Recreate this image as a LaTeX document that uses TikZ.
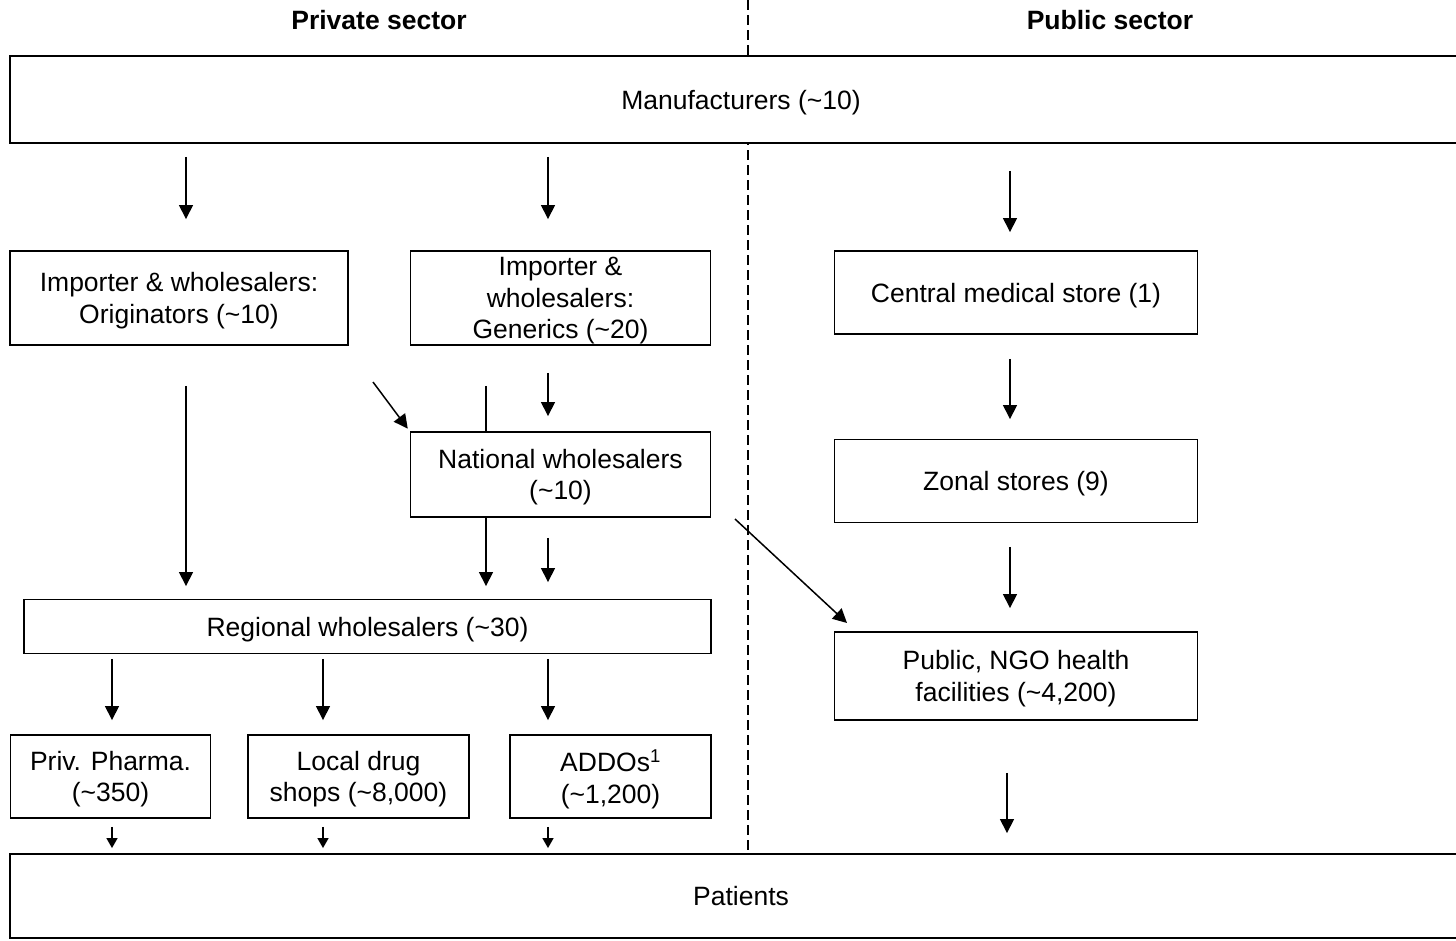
\documentclass[tikz,border=0pt]{standalone}
\usepackage{fontspec}
\setmainfont{Liberation Sans}
\usetikzlibrary{arrows.meta}
\newcommand{\tl}{\textasciitilde}
\begin{document}
\begin{tikzpicture}[x=1pt,y=-1pt,
  box/.style={draw, line width=1.9pt, fill=white, align=center, inner sep=0pt,
    text depth=-7pt, font=\fontsize{26.5}{31.5}\selectfont},
  flow/.style={line width=1.5pt, -{Triangle[length=14pt,width=14pt]}},
  shortflow/.style={line width=1.5pt, -{Triangle[length=10pt,width=11pt]}},
  plain/.style={line width=1.5pt},
  divider/.style={line width=1.5pt, dash pattern=on 10pt off 5pt},
  heading/.style={font=\fontsize{26.5}{31.5}\selectfont\bfseries}]
\useasboundingbox (0,0) rectangle (1456,940);

% sector divider, hidden behind the two wide boxes
\coordinate (divtop) at (748,0);
\coordinate (divbot) at (748,854);
\draw[divider] (divtop) -- (divbot);

% headings
\node[heading] (privhead) at (379,20) {Private sector};
\node[heading] (pubhead) at (1110,20) {Public sector};

% boxes
\node[box, minimum width=1462pt, minimum height=87pt] (manu) at (741,99.5) {Manufacturers (\tl10)};
\node[box, minimum width=338pt, minimum height=94pt] (orig) at (179,298) {Importer \& wholesalers:\\Originators (\tl10)};
\node[box, minimum width=300pt, minimum height=94pt] (gen) at (560.5,298) {Importer \&\\wholesalers:\\Generics (\tl20)};
\node[box, minimum width=363pt, minimum height=83pt] (cms) at (1016,292.5) {Central medical store (1)};
\node[box, minimum width=300pt, minimum height=85pt] (nat) at (560.5,474.5) {National wholesalers\\(\tl10)};
\node[box, minimum width=363pt, minimum height=83pt] (zonal) at (1016,481) {Zonal stores (9)};
\node[box, minimum width=687pt, minimum height=54pt] (reg) at (367.5,626.5) {Regional wholesalers (\tl30)};
\node[box, minimum width=363pt, minimum height=88pt] (ngo) at (1016,676) {Public, NGO health\\facilities (\tl4,200)};
\node[box, minimum width=200pt, minimum height=83pt] (priv) at (110.5,776.5) {Priv. Pharma.\\(\tl350)};
\node[box, minimum width=221pt, minimum height=83pt] (local) at (358.5,776.5) {Local drug\\shops (\tl8,000)};
\node[box, minimum width=201pt, minimum height=83pt] (addo) at (610.5,776.5) {ADDOs\textsuperscript{1}\\(\tl1,200)};
\node[box, minimum width=1462pt, minimum height=84pt] (pat) at (741,896) {Patients};

% column positions of the vertical connectors
\coordinate (xa) at (186,0);
\coordinate (xb) at (548,0);
\coordinate (xc) at (486,0);
\coordinate (xd) at (1010,0);
\coordinate (xe) at (1007,0);
\coordinate (xp) at (112,0);
\coordinate (xl) at (323,0);

% manufacturers to first tier
\draw[flow, shorten <=13pt, shorten >=31pt] (xa |- manu.south) -- (xa |- orig.north);
\draw[flow, shorten <=13pt, shorten >=31pt] (xb |- manu.south) -- (xb |- gen.north);
\draw[flow, shorten <=27pt, shorten >=18pt] (xd |- manu.south) -- (xd |- cms.north);

% private sector
\draw[flow, shorten <=40pt, shorten >=12.5pt] (xa |- orig.south) -- (xa |- reg.north);
\coordinate (dgstart) at (373,382);
\draw[flow, shorten >=3pt] (dgstart) -- (nat.north west);
\draw[plain, shorten <=40pt] (xc |- gen.south) -- (xc |- nat.north);
\draw[flow, shorten >=12.5pt] (xc |- nat.south) -- (xc |- reg.north);
\draw[flow, shorten <=27pt, shorten >=15pt] (xb |- gen.south) -- (xb |- nat.north);
\draw[flow, shorten <=20pt, shorten >=16.5pt] (xb |- nat.south) -- (xb |- reg.north);

% national wholesalers to public facilities
\coordinate (crossstart) at (735,519);
\coordinate (crossend) at (847,623);
\draw[flow] (crossstart) -- (crossend);

% public sector
\draw[flow, shorten <=24pt, shorten >=19.5pt] (xd |- cms.south) -- (xd |- zonal.north);
\draw[flow, shorten <=23.5pt, shorten >=23pt] (xd |- zonal.south) -- (xd |- ngo.north);
\draw[flow, shorten <=52pt, shorten >=20pt] (xe |- ngo.south) -- (xe |- pat.north);

% regional wholesalers to retail outlets
\draw[flow, shorten <=4.5pt, shorten >=14pt] (xp |- reg.south) -- (xp |- priv.north);
\draw[flow, shorten <=4.5pt, shorten >=14pt] (xl |- reg.south) -- (xl |- local.north);
\draw[flow, shorten <=4.5pt, shorten >=14pt] (xb |- reg.south) -- (xb |- addo.north);

% retail outlets to patients
\draw[shortflow, shorten <=8pt, shorten >=5pt] (xp |- priv.south) -- (xp |- pat.north);
\draw[shortflow, shorten <=8pt, shorten >=5pt] (xl |- local.south) -- (xl |- pat.north);
\draw[shortflow, shorten <=8pt, shorten >=5pt] (xb |- addo.south) -- (xb |- pat.north);
\end{tikzpicture}
\end{document}
